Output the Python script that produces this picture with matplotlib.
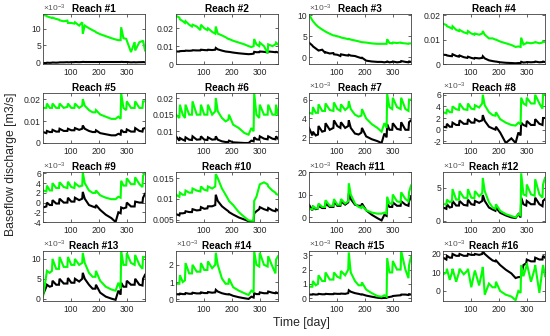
import matplotlib
matplotlib.use("Agg")
import matplotlib.pyplot as plt
from matplotlib.ticker import FuncFormatter

plt.rcParams['font.family'] = ['Liberation Sans', 'DejaVu Sans']
plt.rcParams['mathtext.fontset'] = 'custom'
plt.rcParams['mathtext.rm'] = 'Liberation Sans'
plt.rcParams['mathtext.it'] = 'Liberation Sans:italic'

# ---------------- data ----------------
days = [1, 13, 15, 25, 33, 35, 48, 58, 60, 75, 88, 90, 102, 113, 115, 130, 141, 143, 150, 165,
        178, 188, 190, 205, 225, 245, 260, 270, 278, 280, 288, 298, 300, 315, 328, 330, 345, 356, 358, 365]

titles = ["Reach #%d" % i for i in range(1, 17)]
# panels whose values are given in units of 1e-3
scaled = [True, False, True, False, False, False, True, True, True, False, True, True, True, True, True, True]

green_01 = [14.2, 14.0, 13.8, 13.5, 13.3, 13.4, 13.0, 12.8, 12.6, 12.3, 12.5, 11.8, 11.8, 11.6, 12.0, 11.0, 12.0, 8.5, 11.0, 10.2,
            9.6, 9.2, 9.0, 8.4, 7.8, 7.2, 6.8, 6.6, 6.6, 10.5, 7.2, 7.0, 6.5, 3.0, 6.0, 3.5, 6.0, 6.3, 6.5, 3.5]
black_01 = [-0.3, -0.3, -0.2, -0.25, -0.2, -0.15, -0.2, -0.15, -0.1, -0.1, -0.05, -0.1, -0.05, -0.05, 0.0, -0.05, 0.0, 0.05, 0.0, 0.0,
            0.0, 0.0, 0.0, 0.0, 0.0, 0.0, 0.0, 0.0, 0.0, 0.05, 0.0, 0.0, 0.0, -0.1, -0.05, -0.1, -0.05, -0.05, 0.0, -0.1]

green_02 = [0.027, 0.026, 0.025, 0.024, 0.023, 0.024, 0.022, 0.021, 0.022, 0.021, 0.019, 0.022, 0.020, 0.019, 0.020, 0.018, 0.017, 0.021, 0.017, 0.016,
            0.015, 0.014, 0.014, 0.013, 0.012, 0.011, 0.010, 0.0095, 0.010, 0.014, 0.011, 0.010, 0.012, 0.010, 0.006, 0.011, 0.010, 0.011, 0.012, 0.011]
black_02 = [0.007, 0.007, 0.0072, 0.0073, 0.0073, 0.0075, 0.0074, 0.0075, 0.0077, 0.0076, 0.0076, 0.008, 0.0078, 0.0077, 0.008, 0.0078, 0.008, 0.009, 0.0082, 0.0075,
            0.007, 0.0068, 0.0068, 0.0064, 0.006, 0.0057, 0.0055, 0.0056, 0.0058, 0.0068, 0.0066, 0.0066, 0.007, 0.0068, 0.0065, 0.007, 0.0068, 0.0066, 0.0068, 0.0065]

green_03 = [10.2, 8.8, 8.6, 7.8, 7.3, 7.2, 6.6, 6.2, 6.1, 5.6, 5.2, 5.2, 5.0, 4.8, 4.7, 4.5, 4.3, 4.4, 4.2, 4.0,
            3.8, 3.6, 3.6, 3.5, 3.3, 3.2, 3.2, 3.2, 3.2, 4.3, 3.4, 3.3, 3.5, 3.4, 3.5, 3.4, 3.3, 3.2, 3.3, 3.3]
black_03 = [3.5, 2.8, 2.6, 2.1, 1.7, 1.6, 1.8, 1.1, 1.2, 0.9, 1.0, 0.7, 0.6, 0.3, 0.7, 0.5, 0.4, 0.6, 0.4, 0.3,
            0.0, -0.2, -0.1, -0.8, -1.0, -1.1, -1.1, -1.2, -1.1, -1.0, -1.2, -1.1, -1.0, -1.2, -1.1, -0.9, -1.1, -1.2, -1.0, -1.1]

green_04 = [0.0165, 0.016, 0.0155, 0.015, 0.0145, 0.0155, 0.014, 0.0135, 0.014, 0.013, 0.0125, 0.0135, 0.0125, 0.012, 0.0125, 0.012, 0.0125, 0.0135, 0.012, 0.0105,
            0.0105, 0.010, 0.010, 0.0092, 0.0085, 0.0078, 0.007, 0.0072, 0.007, 0.0108, 0.008, 0.0085, 0.0088, 0.0085, 0.0088, 0.009, 0.0085, 0.0088, 0.0092, 0.009]
black_04 = [0.0038, 0.0037, 0.0035, 0.0033, 0.0032, 0.004, 0.0033, 0.003, 0.0035, 0.0028, 0.0025, 0.003, 0.0025, 0.0022, 0.0025, 0.0023, 0.0025, 0.0032, 0.0023, 0.0015,
            0.0012, 0.001, 0.001, 0.0007, 0.0005, 0.0004, 0.0003, 0.0004, 0.0004, 0.0009, 0.0006, 0.0007, 0.0008, 0.0007, 0.0008, 0.001, 0.0007, 0.0008, 0.001, 0.0008]

green_05 = [0.016, 0.016, 0.018, 0.016, 0.016, 0.018, 0.016, 0.016, 0.018, 0.016, 0.0165, 0.018, 0.016, 0.016, 0.018, 0.016, 0.017, 0.020, 0.017, 0.015,
            0.014, 0.014, 0.015, 0.013, 0.012, 0.011, 0.011, 0.012, 0.011, 0.0228, 0.016, 0.015, 0.019, 0.016, 0.016, 0.019, 0.016, 0.016, 0.019, 0.019]
black_05 = [0.005, 0.0045, 0.0055, 0.005, 0.005, 0.006, 0.0052, 0.0052, 0.0065, 0.0055, 0.0055, 0.0065, 0.0058, 0.0058, 0.0068, 0.006, 0.0065, 0.008, 0.0065, 0.0055,
            0.005, 0.005, 0.0058, 0.0045, 0.004, 0.0035, 0.0035, 0.0042, 0.0038, 0.006, 0.005, 0.005, 0.0062, 0.0052, 0.0052, 0.0068, 0.0055, 0.0052, 0.0065, 0.0068]

green_06 = [0.015, 0.014, 0.018, 0.015, 0.014, 0.018, 0.015, 0.015, 0.019, 0.015, 0.015, 0.018, 0.015, 0.015, 0.018, 0.015, 0.016, 0.020, 0.016, 0.014,
            0.013, 0.0135, 0.015, 0.012, 0.011, 0.0095, 0.009, 0.011, 0.010, 0.0215, 0.015, 0.014, 0.018, 0.015, 0.015, 0.018, 0.015, 0.015, 0.018, 0.015]
black_06 = [0.0085, 0.0072, 0.008, 0.0075, 0.0072, 0.0082, 0.0075, 0.0074, 0.0085, 0.0075, 0.0076, 0.0085, 0.0075, 0.0074, 0.0082, 0.0075, 0.0076, 0.0085, 0.0075, 0.007,
            0.0068, 0.0068, 0.0072, 0.0067, 0.0066, 0.0065, 0.0065, 0.0072, 0.007, 0.0082, 0.0076, 0.0075, 0.0085, 0.0078, 0.0076, 0.0085, 0.0078, 0.0076, 0.0085, 0.0078]

green_07 = [4.6, 4.5, 5.2, 4.6, 4.6, 5.5, 4.8, 4.8, 5.6, 4.9, 4.8, 5.7, 5.0, 4.8, 5.5, 4.9, 5.2, 5.8, 5.0, 4.4,
            4.2, 4.3, 5.0, 4.0, 3.4, 3.0, 2.6, 3.5, 3.0, 6.6, 5.2, 5.0, 6.2, 5.2, 5.0, 6.2, 5.0, 4.8, 6.0, 6.0]
black_07 = [3.0, 2.2, 2.6, 2.2, 2.3, 3.2, 2.6, 2.7, 3.5, 2.8, 3.0, 3.8, 3.2, 3.0, 3.6, 3.0, 3.2, 3.8, 3.0, 2.4,
            2.3, 2.5, 3.0, 2.1, 1.8, 1.6, 1.4, 2.4, 2.0, 3.4, 2.8, 2.8, 3.5, 2.9, 2.8, 3.6, 2.8, 2.8, 3.6, 3.8]

green_08 = [3.0, 2.8, 3.5, 3.0, 3.0, 4.0, 3.5, 3.4, 4.5, 3.5, 3.4, 4.5, 3.6, 3.5, 4.2, 3.8, 4.5, 6.0, 4.2, 3.0,
            2.5, 2.4, 3.0, 1.8, 1.2, 0.8, 0.7, 1.2, 0.9, 5.5, 4.5, 4.2, 5.5, 4.5, 4.5, 6.0, 4.5, 3.6, 6.0, 6.0]
black_08 = [0.5, 0.4, 1.0, 0.5, 0.5, 1.2, 0.8, 0.8, 1.6, 1.0, 1.0, 1.8, 1.2, 1.2, 1.8, 1.4, 1.6, 2.5, 1.5, 0.5,
            0.2, 0.0, 0.5, -0.5, -2.3, -1.5, -2.3, -0.5, -1.0, 1.2, 0.8, 0.6, 1.5, 0.8, 0.8, 1.8, 1.0, 0.8, 2.0, 2.0]

green_09 = [2.5, 2.3, 3.5, 2.5, 2.5, 4.0, 3.0, 3.0, 4.2, 3.2, 3.0, 4.3, 3.2, 3.0, 4.0, 3.3, 3.5, 6.2, 4.0, 2.5,
            2.0, 2.0, 2.5, 1.5, 1.0, 0.7, 0.7, 1.2, 1.0, 4.5, 3.5, 3.5, 5.0, 3.8, 3.8, 5.2, 3.8, 3.2, 5.5, 6.2]
black_09 = [-1.0, -0.8, 0.0, -0.5, -0.5, 0.5, -0.2, -0.2, 0.8, 0.0, 0.0, 1.0, 0.2, 0.2, 1.0, 0.5, 0.8, 2.2, 0.8, -0.5,
            -0.8, -1.0, -0.5, -1.5, -2.5, -3.2, -4.0, -2.0, -2.2, -1.0, -1.2, -1.0, 0.0, -0.8, -0.8, 0.2, 0.0, 0.0, 1.0, 1.8]

green_10 = [0.011, 0.0105, 0.0115, 0.011, 0.011, 0.012, 0.0115, 0.0115, 0.0125, 0.012, 0.0118, 0.013, 0.0122, 0.012, 0.013, 0.0125, 0.013, 0.016, 0.015, 0.0125,
            0.011, 0.0098, 0.0095, 0.0085, 0.0068, 0.0056, 0.0048, 0.0047, 0.0047, 0.0095, 0.0105, 0.013, 0.0135, 0.014, 0.0135, 0.013, 0.012, 0.0115, 0.0112, 0.011]
black_10 = [0.0063, 0.006, 0.0065, 0.0065, 0.0066, 0.007, 0.0068, 0.0068, 0.0075, 0.0072, 0.0073, 0.008, 0.0076, 0.0077, 0.0082, 0.0082, 0.0085, 0.011, 0.0095, 0.0082,
            0.0075, 0.007, 0.0068, 0.0062, 0.0055, 0.005, 0.0046, 0.0045, 0.0045, 0.0065, 0.007, 0.0075, 0.008, 0.0075, 0.0072, 0.0078, 0.0072, 0.007, 0.0075, 0.0072]

green_11 = [3.5, 3.5, 5.0, 3.8, 4.0, 6.0, 4.5, 4.5, 7.5, 5.0, 5.0, 8.0, 5.5, 5.5, 8.0, 6.0, 7.0, 15.0, 10.0, 6.0,
            4.5, 4.0, 5.0, 3.0, 2.0, 1.5, 1.5, 2.0, 1.5, 9.0, 6.0, 6.0, 10.0, 7.0, 6.5, 11.0, 8.0, 7.0, 11.0, 14.0]
black_11 = [5.5, 3.0, 4.5, 3.5, 3.8, 5.0, 4.0, 4.0, 6.0, 4.5, 4.5, 7.0, 5.0, 5.0, 7.0, 5.5, 6.5, 10.5, 8.0, 5.5,
            5.0, 5.0, 6.0, 3.0, 1.0, -0.5, -1.5, 1.0, 0.5, 6.0, 4.5, 4.5, 6.5, 5.0, 5.0, 7.0, 5.5, 5.0, 7.0, 9.0]

green_12 = [2.5, 2.5, 3.2, 2.8, 3.0, 4.8, 3.2, 3.2, 4.5, 3.5, 3.4, 4.8, 3.5, 3.4, 4.5, 3.7, 4.2, 6.5, 4.5, 2.8,
            2.0, 1.8, 2.5, 1.5, 1.0, 0.7, 0.5, 1.0, 0.8, 7.2, 4.0, 3.8, 5.5, 4.0, 3.8, 6.3, 4.0, 3.5, 5.5, 6.5]
black_12 = [2.0, 1.8, 2.5, 2.0, 2.1, 3.0, 2.3, 2.3, 3.0, 2.4, 2.3, 3.2, 2.5, 2.4, 3.0, 2.7, 3.0, 3.9, 3.0, 2.0,
            1.7, 1.5, 2.0, 1.2, 0.8, 0.5, 0.4, 1.0, 0.5, 3.5, 2.5, 2.3, 3.0, 2.5, 2.5, 3.5, 2.5, 2.2, 3.0, 3.3]

green_13 = [0.5, 6.0, 7.0, 6.5, 7.0, 10.0, 7.5, 7.5, 10.5, 8.0, 8.0, 10.5, 8.5, 8.5, 10.0, 8.5, 9.0, 11.5, 9.0, 6.5,
            5.5, 5.5, 7.0, 4.5, 3.0, 2.3, 2.0, 4.0, 2.5, 12.0, 8.5, 8.5, 11.5, 9.0, 8.5, 11.0, 8.5, 7.5, 10.5, 10.5]
black_13 = [1.0, 3.0, 3.5, 3.0, 3.2, 4.5, 3.5, 3.5, 5.0, 3.8, 3.8, 5.2, 4.0, 4.0, 5.0, 4.3, 5.0, 6.5, 5.0, 3.5,
            2.5, 2.5, 3.5, 1.5, 0.5, 0.0, -0.3, 2.0, 1.0, 4.0, 3.0, 3.0, 4.5, 3.5, 3.5, 5.0, 3.5, 3.3, 5.0, 6.0]

green_14 = [0.9, 0.9, 1.4, 1.0, 1.1, 2.1, 1.5, 1.5, 2.0, 1.6, 1.6, 2.1, 1.7, 1.7, 2.2, 1.8, 2.0, 2.7, 2.0, 1.2,
            0.9, 0.9, 1.2, 0.7, 0.5, 0.35, 0.25, 0.5, 0.4, 2.8, 2.0, 1.9, 2.7, 2.0, 1.9, 2.5, 1.9, 1.5, 2.3, 2.5]
black_14 = [0.3, 0.28, 0.33, 0.3, 0.3, 0.36, 0.32, 0.32, 0.38, 0.34, 0.34, 0.4, 0.36, 0.36, 0.42, 0.38, 0.4, 0.55, 0.45, 0.35,
            0.3, 0.28, 0.3, 0.2, 0.12, 0.06, 0.02, 0.15, 0.1, 0.35, 0.3, 0.3, 0.4, 0.35, 0.35, 0.45, 0.38, 0.35, 0.4, 0.35]

green_15 = [0.8, 0.8, 1.2, 0.9, 1.0, 1.6, 1.2, 1.2, 1.8, 1.3, 1.3, 1.8, 1.5, 1.4, 1.9, 1.6, 2.0, 3.2, 1.8, 1.2,
            0.9, 0.9, 1.1, 0.6, 0.35, 0.15, 0.1, 0.2, 0.1, 2.8, 1.8, 1.8, 2.6, 2.0, 2.0, 3.3, 2.0, 1.4, 2.3, 2.9]
black_15 = [0.25, 0.25, 0.28, 0.25, 0.26, 0.3, 0.27, 0.27, 0.3, 0.28, 0.28, 0.32, 0.3, 0.3, 0.32, 0.3, 0.35, 0.55, 0.45, 0.35,
            0.3, 0.25, 0.27, 0.18, 0.1, 0.03, 0.0, 0.02, 0.02, 0.05, 0.08, 0.12, 0.15, 0.18, 0.2, 0.25, 0.25, 0.22, 0.28, 0.25]

green_16 = [9, 10, 12, 6, 10, 12, 5, 10, 12, 9, 11, 12, 2, 10, 11, 3, 11, 13, -2, 4,
            2, 2, 5, 0, -2, -3, -5, 0, -1, 14, 8, 13, 15, 5, 12, 14, -1, 12, 14, 8]
black_16 = [18, 17, 19, 18, 18, 20, 19, 19, 20, 19, 19, 20, 19.5, 19.5, 20, 19.5, 20, 21.5, 20, 18,
            16.5, 16, 16.5, 14, 11.5, 9.5, 7, 7.5, 7.5, 8, 14, 15, 17, 16, 16, 18, 17, 17, 19, 18]

greens = [green_01, green_02, green_03, green_04, green_05, green_06, green_07, green_08,
          green_09, green_10, green_11, green_12, green_13, green_14, green_15, green_16]
blacks = [black_01, black_02, black_03, black_04, black_05, black_06, black_07, black_08,
          black_09, black_10, black_11, black_12, black_13, black_14, black_15, black_16]

yticks = [[0, 5, 10], [0, 0.01, 0.02], [0, 5, 10], [0, 0.01, 0.02],
          [0, 0.01, 0.02], [0.01, 0.015, 0.02], [2, 4, 6], [-2, 0, 2, 4, 6],
          [-4, -2, 0, 2, 4, 6], [0.005, 0.01, 0.015], [0, 10, 20], [0, 5],
          [0, 5, 10], [0, 1, 2], [0, 1, 2, 3], [0, 10, 20]]
ylims = [(-0.6, 14.5), (0, 0.028), (-1.6, 10.3), (0, 0.0205),
         (0, 0.0228), (0.0065, 0.0215), (1.4, 6.7), (-2.3, 6.3),
         (-4, 6.3), (0.0044, 0.0165), (-2.2, 20), (-0.2, 7.4),
         (-0.6, 12), (-0.1, 2.8), (-0.2, 3.3), (-5.4, 21.6)]
xticks = [100, 200, 300]

# ---------------- figure ----------------
W, H = 550, 336
fig = plt.figure(figsize=(W / 100, H / 100), dpi=100)
col_left = [43, 176, 309, 443]
row_top = [14, 93, 172, 251]
aw, ah = 102, 50
txt = '#262626'
fmt = FuncFormatter(lambda v, p: ('%g' % v))

for i in range(16):
    r, c = divmod(i, 4)
    ax = fig.add_axes([col_left[c] / W, 1 - (row_top[r] + ah) / H, aw / W, ah / H])
    ax.plot(days, blacks[i], color='black', lw=1.5, solid_joinstyle='miter')
    ax.plot(days, greens[i], color='#00ff00', lw=1.5, solid_joinstyle='miter')
    ax.set_xlim(1, 365)
    ax.set_ylim(*ylims[i])
    ax.set_xticks(xticks)
    ax.set_yticks(yticks[i])
    ax.yaxis.set_major_formatter(fmt)
    ax.tick_params(direction='in', length=2, width=0.5, labelsize=6.2, colors=txt,
                   top=True, right=True)
    ax.tick_params(axis='x', pad=3)
    ax.tick_params(axis='y', pad=1.5)
    for s in ax.spines.values():
        s.set_color('#404040')
        s.set_linewidth(0.6)
    ax.set_title(titles[i], fontsize=7.2, fontweight='bold', pad=1.5, color='black')
    if scaled[i]:
        ax.text(0.0, 1.01, r'$\times10^{-3}$', transform=ax.transAxes, ha='left', va='bottom',
                fontsize=6.0, color='#555555')

fig.text(0.02, 0.512, 'Baseflow discharge [m3/s]', rotation=90, ha='center', va='center',
         fontsize=8.8, color=txt)
fig.text(0.548, 0.038, 'Time [day]', ha='center', va='center', fontsize=8.8, color=txt)

fig.savefig('out.png', dpi=100)
